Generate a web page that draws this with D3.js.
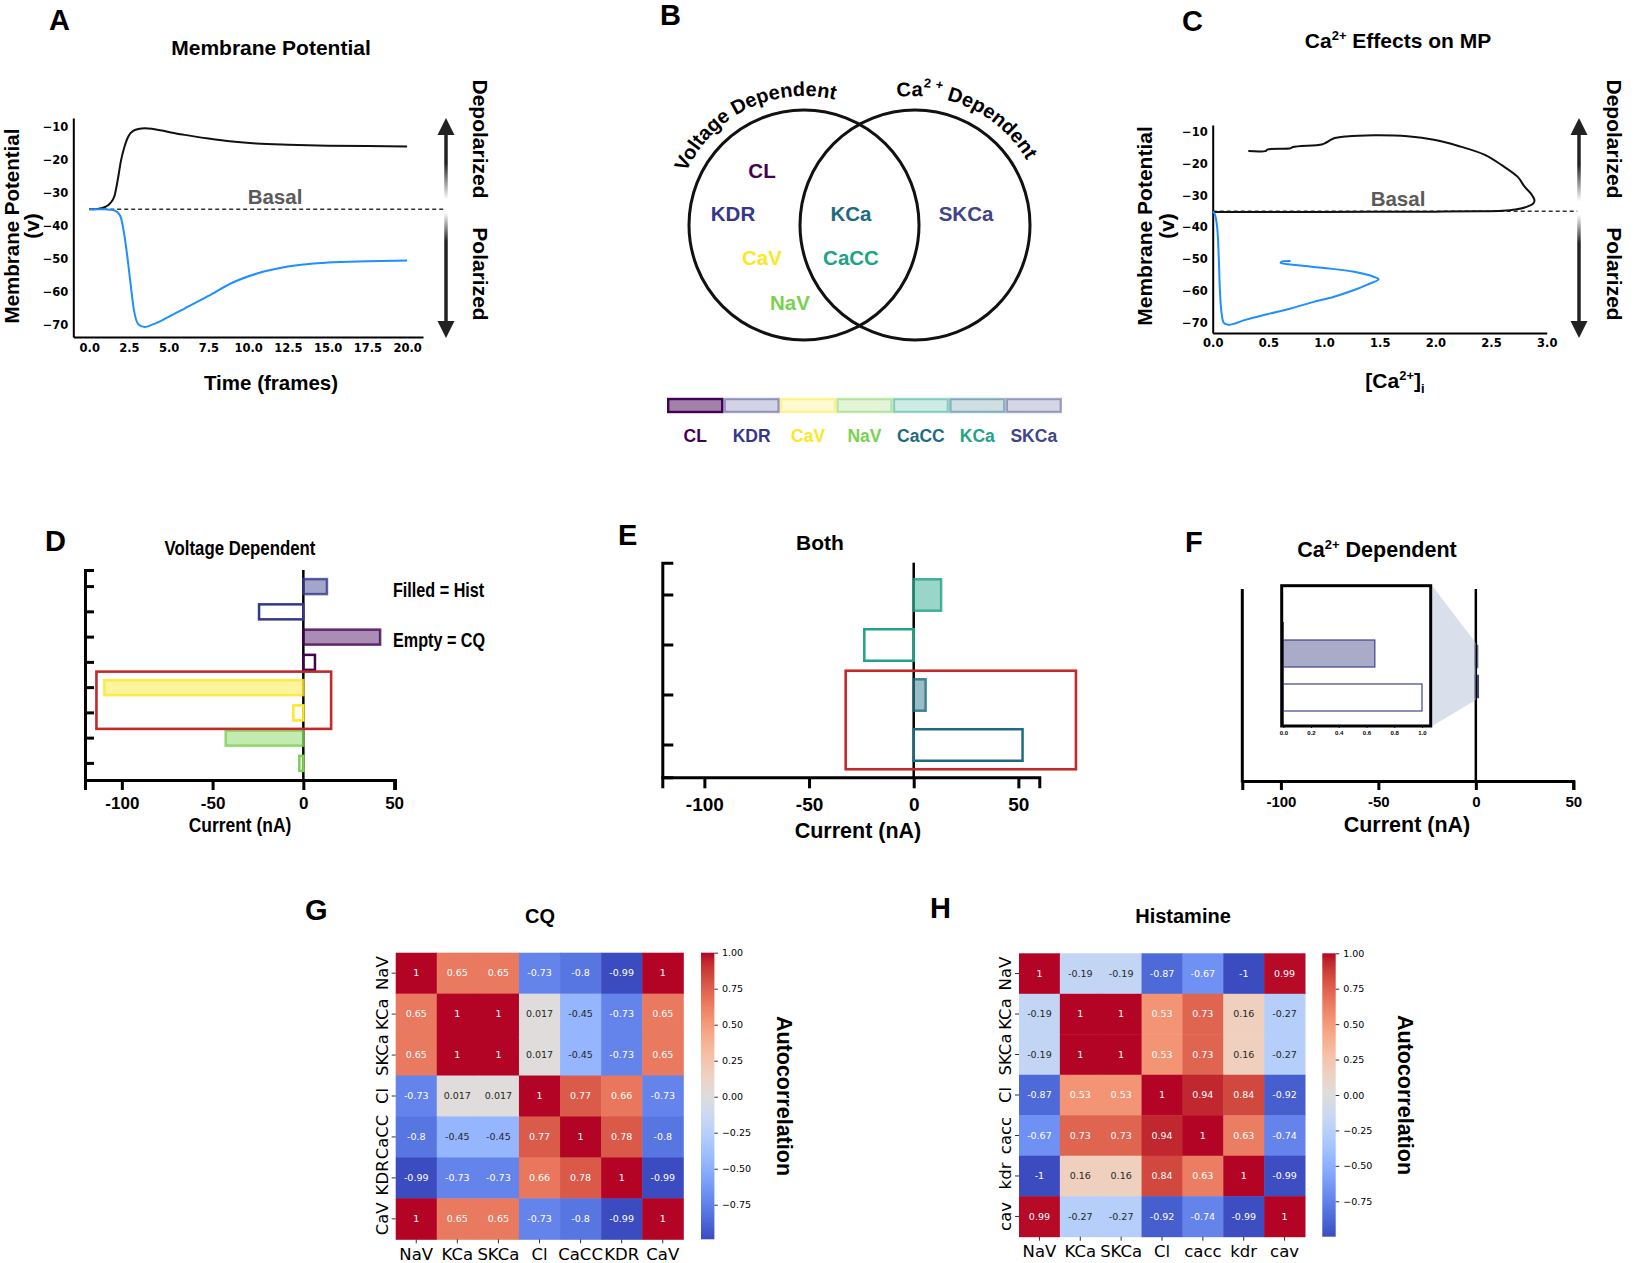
<!DOCTYPE html>
<html>
<head>
<meta charset="utf-8">
<script src="https://cdn.jsdelivr.net/npm/d3@7"></script>
<style>
  body { margin: 0; background: #fff; }
  svg { display: block; }
</style>
</head>
<body>
<div id="fig"></div>
<script>
// ---------------- data ----------------
// Panel A: membrane potential over time
const timeFrames = [0, 0.5, 1.0, 1.3, 1.6, 1.8, 2.0, 2.2, 2.4, 2.6, 2.8, 3.1, 3.5, 4.0, 5.0, 6.0, 7.5, 9.0, 10.5, 12.5, 15.0, 17.5, 20.0];
const mpDepolarized = [-35, -34.9, -34.3, -33.3, -30.8, -26.0, -20.3, -16.4, -13.6, -12.0, -11.2, -10.7, -10.5, -10.7, -11.6, -12.5, -13.6, -14.5, -15.1, -15.5, -15.8, -15.9, -16.0];
const mpPolarized = [-35, -35, -35, -35.1, -35.4, -36, -37.6, -42.5, -49.3, -57.4, -65, -69.8, -70.6, -69.8, -67.5, -65, -61.2, -57.2, -54.5, -52.3, -51.1, -50.7, -50.5];
const timeTicks = [0, 2.5, 5, 7.5, 10, 12.5, 15, 17.5, 20];
const mpTicks = [-70, -60, -50, -40, -30, -20, -10];
const basalMP = -35;

// Panel C: Ca2+ vs membrane potential trajectories
const caDepolarized = [0.0, 0.5, 1.0, 1.5, 2.0, 2.4, 2.6, 2.72, 2.82, 2.88, 2.89, 2.86, 2.8, 2.74, 2.6, 2.44, 2.2, 2.0, 1.75, 1.45, 1.2, 1.08, 1.02, 0.98, 0.72, 0.7, 0.49, 0.48, 0.32];
const vDepolarized = [-35.2, -35.2, -35.2, -35.1, -35.1, -35.0, -34.8, -34.4, -33.6, -32.5, -31.5, -29.5, -27.2, -24.2, -20.6, -17.2, -14.4, -12.6, -11.4, -11.1, -11.5, -12.2, -13.4, -14.0, -14.8, -15.2, -15.6, -16.0, -16.1];
const caPolarized = [0.0, 0.02, 0.04, 0.055, 0.065, 0.08, 0.1, 0.14, 0.2, 0.3, 0.49, 0.7, 0.9, 1.09, 1.27, 1.39, 1.49, 1.45, 1.27, 1.0, 0.79, 0.61, 0.62, 0.7];
const vPolarized = [-35, -36, -40, -50, -60, -67, -70, -70.6, -70.2, -69, -67.3, -65.5, -63.5, -61.8, -59.7, -58, -56.3, -55.6, -54, -52.8, -52, -51.2, -50.8, -50.6];
const caTicks = [0, 0.5, 1.0, 1.5, 2.0, 2.5, 3.0];

// Panel B: channel groups
const voltageOnly = ["CL", "KDR", "CaV", "NaV"];
const bothGroups = ["KCa", "CaCC"];
const calciumOnly = ["SKCa"];
const legendChannels = ["CL", "KDR", "CaV", "NaV", "CaCC", "KCa", "SKCa"];
const legendLabelColorOf = ["CL", "KDR", "CaV", "NaV", "KCa", "CaCC", "SKCa"];

// Panels D-F: currents (nA), Hist = filled, CQ = empty
const voltageChannels = ["KDR", "KDR", "CL", "CL", "CaV", "CaV", "NaV", "NaV"];
const voltageKind = ["hist", "cq", "hist", "cq", "hist", "cq", "hist", "cq"];
const voltageCurrent = [13, -24.4, 42.3, 6.4, -109.7, -5.5, -42.8, -2.2];
const voltageBox = [-114, 15.3];

const bothChannels = ["CaCC", "CaCC", "KCa", "KCa"];
const bothKind = ["hist", "cq", "hist", "cq"];
const bothCurrent = [13.1, -23.6, 5.7, 52];
const bothBox = [-32.5, 77.5];

const calciumChannels = ["SKCa", "SKCa"];
const calciumKind = ["hist", "cq"];
const calciumCurrent = [0.66, 1.0];

const currentTicks = [-100, -50, 0, 50];
const insetTicks = [0, 0.2, 0.4, 0.6, 0.8, 1.0];

// Panels G-H: correlation matrices
const cqLabels = ["NaV", "KCa", "SKCa", "Cl", "CaCC", "KDR", "CaV"];
const cqMatrix = [
  [1, 0.65, 0.65, -0.73, -0.8, -0.99, 1],
  [0.65, 1, 1, 0.017, -0.45, -0.73, 0.65],
  [0.65, 1, 1, 0.017, -0.45, -0.73, 0.65],
  [-0.73, 0.017, 0.017, 1, 0.77, 0.66, -0.73],
  [-0.8, -0.45, -0.45, 0.77, 1, 0.78, -0.8],
  [-0.99, -0.73, -0.73, 0.66, 0.78, 1, -0.99],
  [1, 0.65, 0.65, -0.73, -0.8, -0.99, 1]
];
const histLabels = ["NaV", "KCa", "SKCa", "Cl", "cacc", "kdr", "cav"];
const histMatrix = [
  [1, -0.19, -0.19, -0.87, -0.67, -1, 0.99],
  [-0.19, 1, 1, 0.53, 0.73, 0.16, -0.27],
  [-0.19, 1, 1, 0.53, 0.73, 0.16, -0.27],
  [-0.87, 0.53, 0.53, 1, 0.94, 0.84, -0.92],
  [-0.67, 0.73, 0.73, 0.94, 1, 0.63, -0.74],
  [-1, 0.16, 0.16, 0.84, 0.63, 1, -0.99],
  [0.99, -0.27, -0.27, -0.92, -0.74, -0.99, 1]
];
const colorbarTicks = [-0.75, -0.5, -0.25, 0, 0.25, 0.5, 0.75, 1.0];

// ---------------- styles ----------------
const SANS = "Liberation Sans, Arial, sans-serif";
const MPL = "DejaVu Sans, sans-serif";
const channelColor = {
  CL: "#440154", KDR: "#34388a", CaV: "#fde725", NaV: "#7ad151",
  CaCC: "#20a386", KCa: "#1e6b80", SKCa: "#414487"
};
const redBox = "#c22a2a";

// matplotlib coolwarm (Moreland) control points
const coolwarm = [
  [59,76,192],[68,90,204],[77,104,215],[87,117,225],[98,130,234],[108,142,241],[119,154,247],[130,165,251],
  [141,176,254],[152,185,255],[163,194,255],[174,201,253],[184,208,249],[194,213,244],[204,217,238],[213,219,230],
  [221,221,221],[229,216,209],[236,211,197],[241,204,185],[245,196,173],[247,187,160],[247,177,148],[247,166,135],
  [244,154,123],[241,141,111],[236,127,99],[229,112,88],[222,96,77],[213,80,66],[203,62,56],[192,40,47],[180,4,38]
];
function coolwarmScale(vmin, vmax) {
  return d3.scaleLinear()
    .domain(coolwarm.map((c, i) => vmin + (vmax - vmin) * i / (coolwarm.length - 1)))
    .range(coolwarm.map((c) => d3.rgb(c[0], c[1], c[2]).toString()))
    .interpolate(d3.interpolateRgb)
    .clamp(true);
}
function luminance(color) {
  const c = d3.rgb(color);
  const f = (v) => { v /= 255; return v <= 0.03928 ? v / 12.92 : Math.pow((v + 0.055) / 1.055, 2.4); };
  return 0.2126 * f(c.r) + 0.7152 * f(c.g) + 0.0722 * f(c.b);
}

const svg = d3.select("#fig")
  .append("svg")
  .attr("width", 1650)
  .attr("height", 1263)
  .attr("font-family", SANS)
  .style("background", "#fff");
const defs = svg.append("defs");

function addText(parent, x, y, str, size, opts = {}) {
  const t = parent.append("text")
    .attr("x", x)
    .attr("y", y)
    .attr("font-size", size)
    .attr("font-weight", opts.weight || "bold")
    .attr("font-family", opts.family || SANS)
    .attr("text-anchor", opts.anchor || "middle")
    .attr("fill", opts.fill || "#000")
    .text(str);
  if (opts.rotate) t.attr("transform", `rotate(${opts.rotate},${x},${y})`);
  if (opts.sx) t.attr("x", 0).attr("y", 0).attr("transform", `translate(${x},${y}) scale(${opts.sx},1)`);
  return t;
}

function styleAxis(g, size, family, weight, width) {
  g.attr("font-size", size).attr("font-family", family).attr("font-weight", weight);
  g.selectAll("text").attr("fill", "#000");
  g.selectAll("path, line").attr("stroke", "#000").attr("stroke-width", width);
}

// double-headed arrow fading to white near the basal level
function vArrow(id, x, yTop, yBot, yBasal) {
  const m = (yBasal - yTop) / (yBot - yTop);
  const grad = defs.append("linearGradient")
    .attr("id", id)
    .attr("gradientUnits", "userSpaceOnUse")
    .attr("x1", x).attr("x2", x).attr("y1", yTop).attr("y2", yBot);
  [[0, "#222"], [m - 0.21, "#222"], [m - 0.045, "#fff"], [m + 0.015, "#fff"], [m + 0.145, "#222"], [1, "#222"]]
    .forEach((s) => grad.append("stop").attr("offset", s[0]).attr("stop-color", s[1]));
  svg.append("line")
    .attr("x1", x).attr("x2", x)
    .attr("y1", yTop + 12).attr("y2", yBot - 12)
    .attr("stroke", `url(#${id})`)
    .attr("stroke-width", 3.5);
  svg.append("polygon")
    .attr("points", `${x},${yTop} ${x - 8.5},${yTop + 17} ${x + 8.5},${yTop + 17}`)
    .attr("fill", "#222");
  svg.append("polygon")
    .attr("points", `${x},${yBot} ${x - 8.5},${yBot - 17} ${x + 8.5},${yBot - 17}`)
    .attr("fill", "#222");
}

// ---------------- panel letters ----------------
[["A", 49, 30], ["B", 660, 25], ["C", 1182, 31], ["D", 45, 551], ["E", 618, 545], ["F", 1185, 552], ["G", 305, 920], ["H", 930, 918]]
  .forEach((p) => addText(svg, p[1], p[2], p[0], 29, {anchor: "start"}));

// ---------------- Panel A ----------------
const xA = d3.scaleLinear().domain([-1, 21]).range([73.3, 423]);
const yA = d3.scaleLinear().domain([-73.6, -7.4]).range([337, 118]);

const axA_x = svg.append("g")
  .attr("transform", "translate(0,337)")
  .call(d3.axisBottom(xA).tickValues(timeTicks).tickFormat(d3.format(".1f")).tickSize(0).tickPadding(7));
styleAxis(axA_x, 11.5, MPL, "bold", 2);
const axA_y = svg.append("g")
  .attr("transform", "translate(73.3,0)")
  .call(d3.axisLeft(yA).tickValues(mpTicks).tickSize(0).tickPadding(5));
styleAxis(axA_y, 11.5, MPL, "bold", 2);

svg.append("line")
  .attr("x1", xA(0)).attr("x2", 446)
  .attr("y1", yA(basalMP)).attr("y2", yA(basalMP))
  .attr("stroke", "#333").attr("stroke-width", 1.5).attr("stroke-dasharray", "4 3");

const lineA = (vals) => d3.line()
  .x((d, i) => xA(timeFrames[i]))
  .y((d) => yA(d))
  .curve(d3.curveMonotoneX)(vals);
svg.append("path").attr("d", lineA(mpDepolarized)).attr("fill", "none").attr("stroke", "#111").attr("stroke-width", 2);
svg.append("path").attr("d", lineA(mpPolarized)).attr("fill", "none").attr("stroke", "#1e8fff").attr("stroke-width", 2);

addText(svg, 275, 204, "Basal", 20.5, {fill: "#5a5a5a"});
addText(svg, 271, 55, "Membrane Potential", 21);
addText(svg, 271, 390, "Time (frames)", 20.5);
addText(svg, 19, 226, "Membrane Potential", 20.5, {rotate: -90});
addText(svg, 39, 226, "(v)", 21, {rotate: -90});
vArrow("arrowA", 446, 118, 338, yA(basalMP));
addText(svg, 473, 139, "Depolarized", 21, {rotate: 90});
addText(svg, 473, 274, "Polarized", 21, {rotate: 90});

// ---------------- Panel B ----------------
const venn = svg.append("g");
const leftC = {x: 804, y: 225, r: 115};
const rightC = {x: 915, y: 225, r: 115};
[leftC, rightC].forEach((c) => venn.append("circle")
  .attr("cx", c.x).attr("cy", c.y).attr("r", c.r)
  .attr("fill", "none").attr("stroke", "#111").attr("stroke-width", 3));

const vennPos = {
  CL: [762, 178], KDR: [733, 221], CaV: [762, 265], NaV: [790, 310],
  KCa: [851, 221], CaCC: [851, 265], SKCa: [966, 221]
};
voltageOnly.concat(bothGroups, calciumOnly).forEach((name) => {
  addText(venn, vennPos[name][0], vennPos[name][1], name, 20.5, {fill: channelColor[name]});
});

function arcDef(id, c, r, midDeg) {
  const p = d3.path();
  p.arc(c.x, c.y, r, (midDeg - 90) * Math.PI / 180, (midDeg + 90) * Math.PI / 180, false);
  defs.append("path").attr("id", id).attr("d", p.toString());
}
arcDef("arcL", leftC, 129, -116);
arcDef("arcR", rightC, 129, -64);
venn.append("text")
  .attr("font-size", 20).attr("font-weight", "bold").attr("text-anchor", "middle")
  .append("textPath").attr("href", "#arcL").attr("startOffset", "50%")
  .text("Voltage Dependent");
const tpR = venn.append("text")
  .attr("font-size", 20).attr("font-weight", "bold").attr("text-anchor", "middle")
  .append("textPath").attr("href", "#arcR").attr("startOffset", "50%");
tpR.append("tspan").text("Ca");
tpR.append("tspan").attr("font-size", 13).attr("dy", -9).text("2 +");
tpR.append("tspan").attr("dy", 9).text(" Dependent");

// legend bar
const xLeg = d3.scaleBand().domain(legendChannels).range([667, 1062]);
legendChannels.forEach((name, i) => {
  venn.append("rect")
    .attr("x", xLeg(name) + 1.2)
    .attr("y", 399)
    .attr("width", xLeg.bandwidth() - 2.4)
    .attr("height", 13)
    .attr("fill", channelColor[name])
    .attr("fill-opacity", i === 0 ? 0.5 : 0.22)
    .attr("stroke", channelColor[name])
    .attr("stroke-opacity", i === 0 ? 1 : 0.45)
    .attr("stroke-width", 2.4);
  addText(venn, xLeg(name) + xLeg.bandwidth() / 2, 442, name, 17.5, {fill: channelColor[legendLabelColorOf[i]]});
});

// ---------------- Panel C ----------------
const xC = d3.scaleLinear().domain([0, 3.0]).range([1212.7, 1546.7]);
const yC = d3.scaleLinear().domain([-73.2, -7.9]).range([333, 125]);
const axC_x = svg.append("g")
  .attr("transform", "translate(0,333)")
  .call(d3.axisBottom(xC).tickValues(caTicks).tickFormat(d3.format(".1f")).tickSize(0).tickPadding(6));
styleAxis(axC_x, 11.5, MPL, "bold", 2);
const axC_y = svg.append("g")
  .attr("transform", "translate(1212.7,0)")
  .call(d3.axisLeft(yC).tickValues(mpTicks).tickSize(0).tickPadding(5));
styleAxis(axC_y, 11.5, MPL, "bold", 2);

svg.append("line")
  .attr("x1", xC(0)).attr("x2", 1579)
  .attr("y1", yC(basalMP)).attr("y2", yC(basalMP))
  .attr("stroke", "#333").attr("stroke-width", 1.5).attr("stroke-dasharray", "4 3");
const lineC = (xs, ys) => d3.line()
  .x((d, i) => xC(xs[i]))
  .y((d) => yC(d))
  .curve(d3.curveCatmullRom.alpha(0.5))(ys);
svg.append("path").attr("d", lineC(caDepolarized, vDepolarized)).attr("fill", "none").attr("stroke", "#111").attr("stroke-width", 2);
svg.append("path").attr("d", lineC(caPolarized, vPolarized)).attr("fill", "none").attr("stroke", "#1e8fff").attr("stroke-width", 2);

addText(svg, 1398, 206, "Basal", 20.5, {fill: "#5a5a5a"});
const titleC = addText(svg, 1398, 48, "Ca", 21);
titleC.append("tspan").attr("font-size", 13).attr("dy", -8).text("2+");
titleC.append("tspan").attr("dy", 8).text(" Effects on MP");
const xlabC = addText(svg, 1395, 388, "[Ca", 21);
xlabC.append("tspan").attr("font-size", 13).attr("dy", -8).text("2+");
xlabC.append("tspan").attr("dy", 8).text("]");
xlabC.append("tspan").attr("font-size", 13).attr("dy", 5).text("i");
addText(svg, 1152, 226, "Membrane Potential", 21, {rotate: -90});
addText(svg, 1174, 226, "(v)", 21, {rotate: -90});
vArrow("arrowC", 1579, 118, 338, yC(basalMP));
addText(svg, 1607, 139, "Depolarized", 21, {rotate: 90});
addText(svg, 1607, 274, "Polarized", 21, {rotate: 90});

// ---------------- bar panels ----------------
function drawBars(g, x, y, channels, kinds, values) {
  g.append("g")
    .selectAll("rect")
    .data(values)
    .join("rect")
    .attr("x", (d) => x(Math.min(0, d)))
    .attr("y", (d, i) => y(i))
    .attr("width", (d) => Math.abs(x(d) - x(0)))
    .attr("height", y.bandwidth())
    .attr("fill", (d, i) => kinds[i] === "hist" ? channelColor[channels[i]] : "none")
    .attr("fill-opacity", 0.45)
    .attr("stroke", (d, i) => channelColor[channels[i]])
    .attr("stroke-opacity", (d, i) => kinds[i] === "hist" ? 0.8 : 1)
    .attr("stroke-width", 2.5);
}
function zeroLine(g, x, y0, y1) {
  g.append("line")
    .attr("x1", x(0)).attr("x2", x(0))
    .attr("y1", y0).attr("y2", y1)
    .attr("stroke", "#000").attr("stroke-width", 2.5);
}
function highlight(g, x, y, box, i0, i1, pad) {
  g.append("rect")
    .attr("x", x(box[0]))
    .attr("y", y(i0) - pad)
    .attr("width", x(box[1]) - x(box[0]))
    .attr("height", y(i1) + y.bandwidth() - y(i0) + 2 * pad)
    .attr("fill", "none")
    .attr("stroke", redBox)
    .attr("stroke-width", 2.6);
}

// Panel D
const gD = svg.append("g");
const xD = d3.scaleLinear().domain([-120.3, 50.5]).range([85, 395]);
const yD = d3.scaleBand().domain(d3.range(voltageCurrent.length)).range([570, 780]).paddingInner(0.406).paddingOuter(0.36);
const axD_x = gD.append("g").attr("transform", "translate(0,780)")
  .call(d3.axisBottom(xD).tickValues(currentTicks).tickFormat((d) => String(d)).tickSizeOuter(0).tickSize(10).tickPadding(7));
styleAxis(axD_x, 17, SANS, "bold", 3);
const axD_y = gD.append("g").attr("transform", "translate(85,0)")
  .call(d3.axisLeft(yD).tickFormat("").tickSizeOuter(0).tickSize(-9));
styleAxis(axD_y, 10, SANS, "bold", 3);
zeroLine(gD, xD, yD.range()[0], yD.range()[1]);
drawBars(gD, xD, yD, voltageChannels, voltageKind, voltageCurrent);
highlight(gD, xD, yD, voltageBox, 4, 5, 8.5);
addText(gD, 240, 555, "Voltage Dependent", 21, {sx: 0.8});
addText(gD, 240, 832, "Current (nA)", 20.5, {sx: 0.85});
addText(gD, 393, 597, "Filled = Hist", 21, {anchor: "start", sx: 0.77});
addText(gD, 393, 647, "Empty = CQ", 21, {anchor: "start", sx: 0.77});

// Panel E
const gE = svg.append("g");
const xE = d3.scaleLinear().domain([-120.1, 60]).range([662.3, 1039.3]);
const yE = d3.scaleBand().domain(d3.range(bothCurrent.length)).range([562.7, 777.3]).paddingInner(0.37).paddingOuter(0.331);
const axE_x = gE.append("g").attr("transform", "translate(0,777.3)")
  .call(d3.axisBottom(xE).tickValues(currentTicks).tickFormat((d) => String(d)).tickSizeOuter(0).tickSize(11).tickPadding(9));
styleAxis(axE_x, 19, SANS, "bold", 3);
const axE_y = gE.append("g").attr("transform", "translate(662.3,0)")
  .call(d3.axisLeft(yE).tickFormat("").tickSizeOuter(0).tickSize(-11));
styleAxis(axE_y, 10, SANS, "bold", 3);
zeroLine(gE, xE, yE.range()[0], yE.range()[1]);
drawBars(gE, xE, yE, bothChannels, bothKind, bothCurrent);
highlight(gE, xE, yE, bothBox, 2, 3, 8.5);
addText(gE, 820, 550, "Both", 21);
addText(gE, 858, 838, "Current (nA)", 21.5);

// Panel F
const gF = svg.append("g");
const xF = d3.scaleLinear().domain([-119.8, 50]).range([1242.3, 1573.3]);
const yF = d3.scaleBand().domain(d3.range(calciumCurrent.length)).range([643, 700]).paddingInner(0.3).paddingOuter(0.1);
const axF_x = gF.append("g").attr("transform", "translate(0,781)")
  .call(d3.axisBottom(xF).tickValues(currentTicks).tickFormat((d) => String(d)).tickSizeOuter(0).tickSize(9).tickPadding(6));
styleAxis(axF_x, 15, SANS, "bold", 3);
gF.append("line")
  .attr("x1", xF.range()[0]).attr("x2", xF.range()[0])
  .attr("y1", 589).attr("y2", 782.5)
  .attr("stroke", "#000").attr("stroke-width", 3);
// the SKCa currents are tiny at this scale and sit under the zero line
drawBars(gF, xF, yF, calciumChannels, calciumKind, calciumCurrent);
zeroLine(gF, xF, 589, 781);

// inset zoom
const inset = {x0: 1281.7, x1: 1430.7, y0: 585.7, y1: 726};
gF.append("polygon")
  .attr("points", [[inset.x1 + 1.5, inset.y0], [xF(0), yF.range()[0]], [xF(0), yF.range()[1]], [inset.x1 + 1.5, inset.y1]].join(" "))
  .attr("fill", "#b4c2da")
  .attr("fill-opacity", 0.5);
gF.append("rect")
  .attr("x", inset.x0).attr("y", inset.y0)
  .attr("width", inset.x1 - inset.x0).attr("height", inset.y1 - inset.y0)
  .attr("fill", "#fff");
const xI = d3.scaleLinear().domain([0, 1]).range([1283.3, 1422]);
const yI = d3.scaleBand().domain(d3.range(calciumCurrent.length)).range([640, 711]).paddingInner(0.386).paddingOuter(0);
gF.append("line")
  .attr("x1", xI(0)).attr("x2", xI(0))
  .attr("y1", 622).attr("y2", inset.y1)
  .attr("stroke", "#333").attr("stroke-width", 1);
gF.append("g")
  .selectAll("rect")
  .data(calciumCurrent)
  .join("rect")
  .attr("x", xI(0))
  .attr("y", (d, i) => yI(i))
  .attr("width", (d) => xI(d) - xI(0))
  .attr("height", yI.bandwidth())
  .attr("fill", (d, i) => calciumKind[i] === "hist" ? channelColor[calciumChannels[i]] : "#fff")
  .attr("fill-opacity", (d, i) => calciumKind[i] === "hist" ? 0.45 : 1)
  .attr("stroke", (d, i) => channelColor[calciumChannels[i]])
  .attr("stroke-width", 1.2);
gF.append("rect")
  .attr("x", inset.x0).attr("y", inset.y0)
  .attr("width", inset.x1 - inset.x0).attr("height", inset.y1 - inset.y0)
  .attr("fill", "none").attr("stroke", "#000").attr("stroke-width", 3);
const axI = gF.append("g").attr("transform", `translate(0,${inset.y1})`)
  .call(d3.axisBottom(xI).tickValues(insetTicks).tickFormat(d3.format(".1f")).tickSizeOuter(0).tickSize(2).tickPadding(3));
styleAxis(axI, 6, SANS, "bold", 1);
axI.select(".domain").remove();

const titleF = addText(gF, 1377, 557, "Ca", 21.5);
titleF.append("tspan").attr("font-size", 13).attr("dy", -8).text("2+");
titleF.append("tspan").attr("dy", 8).text(" Dependent");
addText(gF, 1407, 832, "Current (nA)", 21.5);

// ---------------- heatmaps ----------------
function drawHeatmap(cfg) {
  const g = svg.append("g");
  const n = cfg.labels.length;
  const flat = cfg.values.flat();
  const vmin = d3.min(flat), vmax = d3.max(flat);
  const color = coolwarmScale(vmin, vmax);
  const x = d3.scaleBand().domain(d3.range(n)).range([cfg.x0, cfg.x1]);
  const y = d3.scaleBand().domain(d3.range(n)).range([cfg.y0, cfg.y1]);
  const cells = cfg.values.flatMap((row, i) => row.map((v, j) => ({i, j, v})));
  const fmt = d3.format(".2~g");

  g.append("g")
    .selectAll("rect")
    .data(cells)
    .join("rect")
    .attr("x", (d) => x(d.j))
    .attr("y", (d) => y(d.i))
    .attr("width", x.bandwidth() + 0.5)
    .attr("height", y.bandwidth() + 0.5)
    .attr("fill", (d) => color(d.v));
  g.append("g")
    .selectAll("text")
    .data(cells)
    .join("text")
    .attr("x", (d) => x(d.j) + x.bandwidth() / 2)
    .attr("y", (d) => y(d.i) + y.bandwidth() / 2)
    .attr("dy", "0.35em")
    .attr("text-anchor", "middle")
    .attr("font-family", MPL)
    .attr("font-size", 9.5)
    .attr("fill", (d) => luminance(color(d.v)) > 0.42 ? "#262626" : "#fff")
    .text((d) => fmt(d.v).replace("\u2212", "-"));

  const axX = g.append("g").attr("transform", `translate(0,${cfg.y1})`)
    .call(d3.axisBottom(x).tickFormat((i) => cfg.labels[i]).tickSizeOuter(0).tickSize(4).tickPadding(5));
  styleAxis(axX, 16.5, MPL, "normal", 1);
  axX.select(".domain").remove();
  axX.selectAll("line").attr("stroke", "#333");
  const axY = g.append("g").attr("transform", `translate(${cfg.x0},0)`)
    .call(d3.axisLeft(y).tickFormat((i) => cfg.labels[i]).tickSizeOuter(0).tickSize(4));
  styleAxis(axY, 16.5, MPL, "normal", 1);
  axY.select(".domain").remove();
  axY.selectAll("line").attr("stroke", "#333");
  axY.selectAll("text")
    .attr("transform", "rotate(-90)")
    .attr("x", 0).attr("y", -8).attr("dy", 0)
    .attr("text-anchor", "middle");

  // colorbar
  const gid = cfg.id + "-cb";
  const grad = defs.append("linearGradient").attr("id", gid)
    .attr("x1", 0).attr("x2", 0).attr("y1", 1).attr("y2", 0);
  coolwarm.forEach((c, k) => grad.append("stop")
    .attr("offset", k / (coolwarm.length - 1))
    .attr("stop-color", d3.rgb(c[0], c[1], c[2]).toString()));
  g.append("rect")
    .attr("x", cfg.cbx).attr("y", cfg.y0)
    .attr("width", 13.4).attr("height", cfg.y1 - cfg.y0)
    .attr("fill", `url(#${gid})`);
  const cbScale = d3.scaleLinear().domain([vmin, vmax]).range([cfg.y1, cfg.y0]);
  const axC = g.append("g").attr("transform", `translate(${cfg.cbx + 13.4},0)`)
    .call(d3.axisRight(cbScale).tickValues(colorbarTicks).tickFormat(d3.format(".2f")).tickSizeOuter(0).tickSize(3.5).tickPadding(4));
  styleAxis(axC, 9.5, MPL, "normal", 1);
  axC.select(".domain").remove();
  axC.selectAll("line").attr("stroke", "#333");

  addText(g, cfg.titleX, 923, cfg.title, 20);
  addText(g, cfg.cbLabelX, (cfg.y0 + cfg.y1) / 2, "Autocorrelation", 21.5, {rotate: 90});
}

drawHeatmap({
  id: "cq", title: "CQ", titleX: 540, labels: cqLabels, values: cqMatrix,
  x0: 395.7, x1: 683.3, y0: 952.7, y1: 1239.3, cbx: 701, cbLabelX: 777
});
drawHeatmap({
  id: "hist", title: "Histamine", titleX: 1183, labels: histLabels, values: histMatrix,
  x0: 1019, x1: 1305, y0: 953.3, y1: 1236.7, cbx: 1322.3, cbLabelX: 1398
});
</script>
</body>
</html>
